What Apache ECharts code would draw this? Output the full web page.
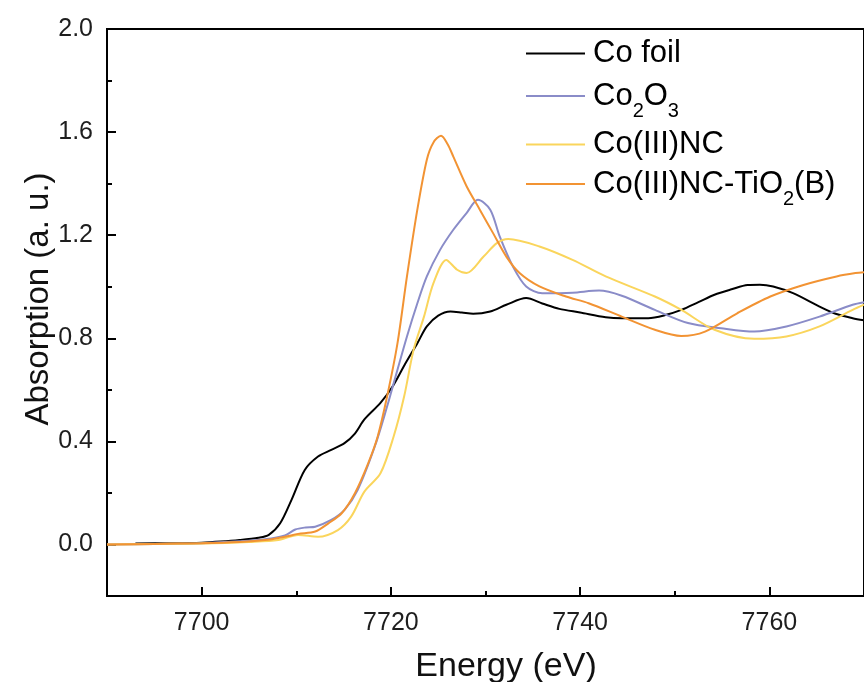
<!DOCTYPE html>
<html>
<head>
<meta charset="utf-8">
<script src="https://cdn.jsdelivr.net/npm/echarts@6/dist/echarts.min.js"></script>
<style>
  html, body { margin: 0; padding: 0; background: #fff; }
  #chart { width: 864px; height: 682px; }
</style>
</head>
<body>
<div id="chart"></div>
<script>
// Co K-edge XANES spectra
const coFoilE = [7693, 7697, 7700, 7702, 7704, 7706, 7707.1, 7708.3, 7709.5, 7710.9, 7712.3, 7713.7, 7715.1, 7716.2, 7717.2, 7718.9, 7720.3, 7721.5, 7722.8, 7723.8, 7725, 7726.3, 7727.5, 7728.7, 7730.5, 7732.2, 7734.3, 7736, 7737.8, 7740, 7742.7, 7744.4, 7747.2, 7749, 7750.7, 7752.5, 7754.2, 7756, 7757.7, 7759, 7760.4, 7762.5, 7765.3, 7767, 7768.8, 7770];
const coFoilA = [0.004, 0.005, 0.007, 0.011, 0.017, 0.026, 0.037, 0.082, 0.173, 0.289, 0.341, 0.367, 0.393, 0.43, 0.485, 0.549, 0.62, 0.70, 0.781, 0.846, 0.888, 0.904, 0.900, 0.895, 0.904, 0.93, 0.956, 0.935, 0.914, 0.900, 0.882, 0.878, 0.878, 0.89, 0.910, 0.94, 0.969, 0.99, 1.007, 1.008, 1.001, 0.975, 0.923, 0.895, 0.878, 0.87];

const co2o3E = [7690, 7695, 7700, 7704, 7706.7, 7708.8, 7709.9, 7711, 7712, 7713.7, 7715.1, 7716.5, 7718.3, 7719.6, 7720.3, 7721.7, 7722.8, 7723.8, 7725.2, 7726.6, 7728.0, 7729.2, 7730.5, 7731.5, 7732.9, 7734.3, 7736.0, 7739.2, 7742.0, 7744.4, 7747.9, 7751.4, 7754.9, 7758.4, 7761.8, 7765.3, 7768.8, 7770];
const co2o3A = [0.0, 0.002, 0.005, 0.012, 0.02, 0.035, 0.058, 0.066, 0.069, 0.095, 0.134, 0.212, 0.38, 0.535, 0.626, 0.807, 0.936, 1.04, 1.143, 1.221, 1.286, 1.337, 1.299, 1.195, 1.078, 1.001, 0.975, 0.977, 0.985, 0.965, 0.910, 0.859, 0.839, 0.826, 0.846, 0.884, 0.930, 0.94];

const coNcE = [7690, 7695, 7700, 7705, 7708.1, 7710.2, 7712.3, 7714.4, 7715.8, 7717.2, 7718.9, 7720.3, 7721.4, 7722.4, 7723.5, 7724.5, 7725.85, 7727.0, 7728.0, 7729.8, 7731.2, 7732.4, 7735.7, 7739.2, 7742.7, 7747.9, 7750.7, 7754.2, 7758.4, 7761.8, 7765.3, 7768.8, 7770];
const coNcA = [0.0, 0.002, 0.004, 0.01, 0.017, 0.037, 0.03, 0.056, 0.108, 0.205, 0.276, 0.42, 0.574, 0.755, 0.884, 1.014, 1.104, 1.066, 1.053, 1.117, 1.169, 1.185, 1.156, 1.104, 1.04, 0.962, 0.910, 0.833, 0.798, 0.807, 0.846, 0.910, 0.93];

const coNcTiE = [7690, 7695, 7700, 7704, 7706.7, 7708.8, 7710.2, 7712.0, 7713.4, 7714.8, 7716.2, 7717.6, 7718.6, 7719.6, 7720.7, 7721.7, 7722.8, 7723.8, 7724.5, 7725.3, 7726.0, 7726.6, 7728.0, 7729.4, 7730.8, 7732.2, 7733.6, 7735.7, 7738.5, 7740.9, 7744.4, 7747.9, 7750.7, 7753.2, 7756.6, 7760.1, 7763.6, 7767.1, 7769.1, 7770];
const coNcTiA = [0.0, 0.002, 0.005, 0.01, 0.017, 0.03, 0.041, 0.05, 0.082, 0.121, 0.199, 0.315, 0.418, 0.574, 0.781, 1.04, 1.30, 1.493, 1.56, 1.586, 1.553, 1.505, 1.39, 1.299, 1.208, 1.117, 1.053, 1.001, 0.962, 0.936, 0.884, 0.833, 0.809, 0.826, 0.897, 0.962, 1.007, 1.04, 1.053, 1.056];

const seriesNames = ['Co foil', 'Co2O3', 'Co(III)NC', 'Co(III)NC-TiO2(B)'];
const seriesLabels = ['{a|Co foil}', '{a|Co}{s|2}{a|O}{s|3}', '{a|Co(III)NC}', '{a|Co(III)NC-TiO}{s|2}{a|(B)}'];
const labelHasSub = [false, true, false, true];
const seriesColors = ['#000000', '#8a8cc8', '#fad55c', '#f29333'];
const legendCenters = [53, 95, 144, 183];

const xMajorTicks = [7700, 7720, 7740, 7760];
const yMajorTicks = [0.0, 0.4, 0.8, 1.2, 1.6, 2.0];

const FONT = 'Liberation Sans, Arial, sans-serif';
const zip = (xs, ys) => xs.map((x, i) => [x, ys[i]]);
const seriesData = [zip(coFoilE, coFoilA), zip(co2o3E, co2o3A), zip(coNcE, coNcA), zip(coNcTiE, coNcTiA)];

const chart = echarts.init(document.getElementById('chart'), null, { renderer: 'canvas' });

// one legend block per entry so each row sits at its own height
const legends = seriesNames.map((name, i) => ({
  data: [name],
  left: 526,
  top: legendCenters[i] - 15 - (labelHasSub[i] ? 9 : 0),
  padding: 0,
  icon: 'rect',
  itemWidth: 59,
  itemHeight: 2,
  selectedMode: false,
  formatter: () => seriesLabels[i],
  textStyle: {
    padding: [0, 0, 0, 3],
    rich: {
      a: { fontFamily: FONT, fontSize: 31, lineHeight: 30, color: '#000' },
      s: { fontFamily: FONT, fontSize: 20, lineHeight: 30, color: '#000', padding: [30, 0, 0, 0] }
    }
  }
}));

const option = {
  animation: false,
  backgroundColor: '#fff',
  grid: {
    left: 107, top: 29, width: 764, height: 567,
    show: true, borderColor: '#000', borderWidth: 2, backgroundColor: 'transparent'
  },
  legend: legends,
  xAxis: [
    {
      type: 'value', position: 'bottom', min: 7690, max: 7770, interval: 10,
      axisLine: { show: true, onZero: false, lineStyle: { color: '#000', width: 2 } },
      axisTick: { show: true, inside: true, length: 5, lineStyle: { color: '#000', width: 2 } },
      axisLabel: { show: false },
      splitLine: { show: false }
    },
    {
      type: 'value', position: 'bottom', min: 7690, max: 7770,
      axisLine: { show: false, onZero: false },
      axisTick: { show: true, inside: true, length: 9, customValues: xMajorTicks, lineStyle: { color: '#000', width: 2 } },
      axisLabel: {
        show: true, customValues: xMajorTicks, margin: 15, fontFamily: FONT, fontSize: 25, color: '#1e1e1e',
        formatter: v => String(v)
      },
      splitLine: { show: false }
    }
  ],
  yAxis: [
    {
      type: 'value', position: 'left', min: -0.2, max: 2.0, interval: 0.2,
      axisLine: { show: true, onZero: false, lineStyle: { color: '#000', width: 2 } },
      axisTick: { show: true, inside: true, length: 5, lineStyle: { color: '#000', width: 2 } },
      axisLabel: { show: false },
      splitLine: { show: false }
    },
    {
      type: 'value', position: 'left', min: -0.2, max: 2.0,
      axisLine: { show: false, onZero: false },
      axisTick: { show: true, inside: true, length: 9, customValues: yMajorTicks, lineStyle: { color: '#000', width: 2 } },
      axisLabel: {
        show: true, customValues: yMajorTicks, margin: 14, fontFamily: FONT, fontSize: 25, color: '#1e1e1e',
        formatter: v => Number(v).toFixed(1)
      },
      splitLine: { show: false }
    }
  ],
  graphic: [
    {
      type: 'text', x: 506, y: 667,
      style: { text: 'Energy (eV)', font: '34px ' + FONT, fill: '#111', align: 'center', verticalAlign: 'middle' }
    },
    {
      type: 'text', x: 39, y: 299, rotation: Math.PI / 2,
      style: { text: 'Absorption (a. u.)', font: '33px ' + FONT, fill: '#111', align: 'center', verticalAlign: 'middle' }
    }
  ],
  series: seriesNames.map((name, i) => ({
    name: name,
    type: 'line',
    xAxisIndex: 0,
    yAxisIndex: 0,
    data: seriesData[i],
    showSymbol: false,
    symbol: 'none',
    smooth: 0.3,
    color: seriesColors[i],
    lineStyle: { color: seriesColors[i], width: 2 },
    z: 2 + i
  }))
};

chart.setOption(option);
</script>
</body>
</html>
